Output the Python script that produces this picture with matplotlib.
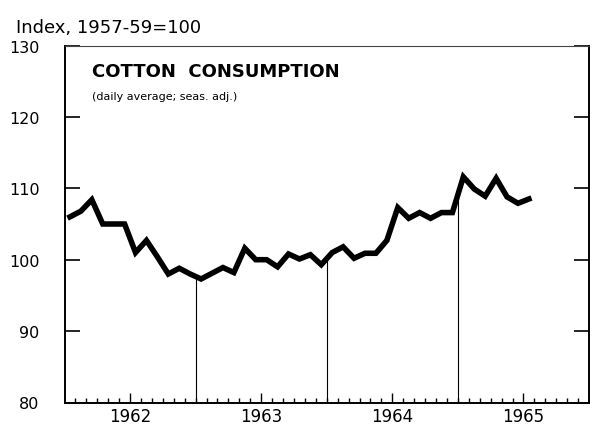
import numpy as np
import matplotlib
matplotlib.use("Agg")
import matplotlib.pyplot as plt
from matplotlib.ticker import FixedLocator, NullFormatter

# monthly index, Jan 1962 - Jul 1965 (1957-59 = 100)
cotton_1962 = [106.0, 106.8, 108.4, 105.0, 105.0, 105.0, 101.0, 102.7, 100.4, 98.0, 98.8, 98.0]
cotton_1963 = [97.3, 98.1, 98.9, 98.2, 101.6, 100.0, 100.0, 99.0, 100.8, 100.1, 100.7, 99.3]
cotton_1964 = [101.0, 101.8, 100.2, 100.9, 100.9, 102.7, 107.3, 105.8, 106.6, 105.8, 106.6, 106.6]
cotton_1965 = [111.6, 109.9, 108.9, 111.4, 108.8, 107.9, 108.5]

years = [1962, 1963, 1964, 1965]
year_labels = ["1962", "1963", "1964", "1965"]
y_ticks = [80, 90, 100, 110, 120, 130]

values = np.array(cotton_1962 + cotton_1963 + cotton_1964 + cotton_1965)
# plot each month at mid-month, x in fractional years
x = 1962 + (np.arange(len(values)) + 0.5) / 12.0

plt.rcParams['font.family'] = ['DejaVu Sans']

fig = plt.figure(figsize=(5.94, 4.35), dpi=100)
ax = fig.add_axes([64.5 / 594, 31.5 / 435, 524.5 / 594, 357 / 435])

ax.plot(x, values, color="black", lw=4.0, solid_joinstyle="miter", zorder=3)

# thin year-boundary lines from the baseline up to the curve
for yr in years[1:]:
    top = np.interp(yr, x, values)
    ax.plot([yr, yr], [80, top], color="black", lw=0.8, zorder=2)

ax.set_xlim(1962, 1966)
ax.set_ylim(80, 130)

mid_years = [y + 0.5 for y in years]
months = [1962 + m / 12.0 for m in range(1, 48) if m % 12 != 6]
ax.xaxis.set_major_locator(FixedLocator(mid_years))
ax.set_xticklabels(year_labels)
ax.xaxis.set_minor_locator(FixedLocator(months))
ax.xaxis.set_minor_formatter(NullFormatter())
ax.tick_params(axis="x", which="major", direction="in", length=7, width=1,
               labelsize=12, pad=3)
ax.tick_params(axis="x", which="minor", direction="in", length=3.5, width=1)

ax.set_yticks(y_ticks)
ax.tick_params(axis="y", which="major", direction="in", length=10.5, width=1.2,
               labelsize=11.5, pad=18, left=True, right=True)

for side in ["left", "bottom", "right"]:
    ax.spines[side].set_linewidth(1.4)
ax.spines["top"].set_linewidth(0.8)
ax.spines["top"].set_color("#444444")

ax.text(0.052, 0.915, "COTTON  CONSUMPTION", transform=ax.transAxes,
        fontsize=13, fontweight="bold", ha="left", va="baseline")
ax.text(0.052, 0.85, "(daily average; seas. adj.)", transform=ax.transAxes,
        fontsize=8, ha="left", va="baseline")

fig.text(16 / 594, 1 - 33 / 435, "Index, 1957-59=100", fontsize=13,
         ha="left", va="baseline")

fig.savefig("out.png", dpi=100)
